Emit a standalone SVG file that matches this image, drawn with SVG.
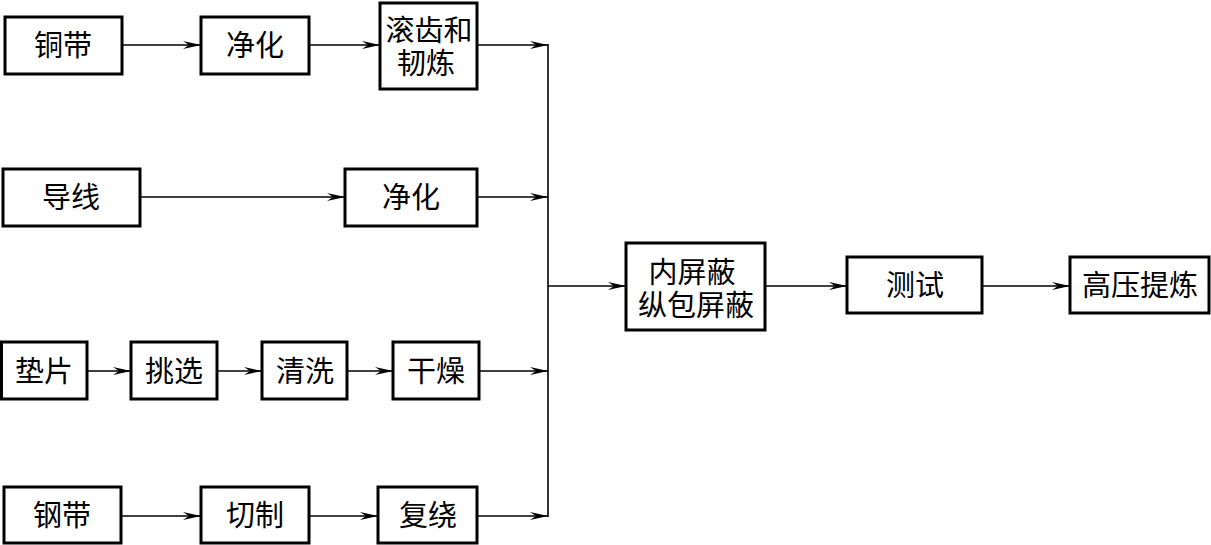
<svg xmlns="http://www.w3.org/2000/svg" width="1211" height="545" viewBox="0 0 1211 545">
<style>
.box{fill:#fff;stroke:#000;stroke-width:3}
.t{font-family:"Liberation Sans","Noto Sans CJK SC","Noto Sans CJK JP",sans-serif;font-size:29px;fill:#000;text-anchor:middle;dominant-baseline:central}
.c{fill:none;stroke:#000;stroke-width:1.6}
.a{fill:none;stroke:#000;stroke-width:1.6;marker-end:url(#ah)}
</style>
<defs>
<marker id="ah" markerUnits="userSpaceOnUse" markerWidth="20" markerHeight="10" viewBox="-19 -5 20 10" refX="0" refY="0" orient="auto">
<path d="M0,0 L-18,-4 L-12,0 L-18,4 Z" fill="#000"/>
</marker>
</defs>
<rect width="1211" height="545" fill="#fff"/>
<g id="connectors">
<line class="a" x1="122" y1="45" x2="201" y2="45"/>
<line class="a" x1="309" y1="45" x2="380" y2="45"/>
<line class="a" x1="477" y1="45" x2="548" y2="45"/>
<line class="a" x1="140" y1="197" x2="345" y2="197"/>
<line class="a" x1="477" y1="197" x2="548" y2="197"/>
<line class="a" x1="87" y1="371" x2="131" y2="371"/>
<line class="a" x1="217" y1="371" x2="262" y2="371"/>
<line class="a" x1="347" y1="371" x2="393" y2="371"/>
<line class="a" x1="479" y1="371" x2="548" y2="371"/>
<line class="a" x1="121" y1="516" x2="201" y2="516"/>
<line class="a" x1="309" y1="516" x2="378" y2="516"/>
<line class="a" x1="477" y1="516" x2="548" y2="516"/>
<line class="c" x1="548" y1="44" x2="548" y2="517"/>
<line class="a" x1="548" y1="286" x2="626" y2="286"/>
<line class="a" x1="765" y1="286" x2="847" y2="286"/>
<line class="a" x1="982" y1="286" x2="1070" y2="286"/>
</g>
<g id="n1"><rect class="box" x="5" y="17" width="117" height="57"/><text class="t" x="63" y="46">铜带</text></g>
<g id="n2"><rect class="box" x="201" y="17" width="108" height="57"/><text class="t" x="255" y="46">净化</text></g>
<g id="n3"><rect class="box" x="380" y="3" width="97" height="86"/><text class="t"><tspan x="429" y="30.5">滚齿和</tspan><tspan x="426" y="63.5">韧炼</tspan></text></g>
<g id="n4"><rect class="box" x="3" y="169" width="137" height="57"/><text class="t" x="71" y="198">导线</text></g>
<g id="n5"><rect class="box" x="345" y="169" width="132" height="57"/><text class="t" x="411" y="198">净化</text></g>
<g id="n6"><rect class="box" x="1.5" y="342" width="85.5" height="57"/><text class="t" x="44" y="372">垫片</text></g>
<g id="n7"><rect class="box" x="131" y="342" width="86" height="57"/><text class="t" x="174" y="372">挑选</text></g>
<g id="n8"><rect class="box" x="262" y="342" width="85" height="57"/><text class="t" x="305" y="372">清洗</text></g>
<g id="n9"><rect class="box" x="393" y="342" width="86" height="57"/><text class="t" x="436" y="372">干燥</text></g>
<g id="n10"><rect class="box" x="4" y="487" width="117" height="56"/><text class="t" x="62" y="516">钢带</text></g>
<g id="n11"><rect class="box" x="201" y="487" width="108" height="56"/><text class="t" x="255" y="516">切制</text></g>
<g id="n12"><rect class="box" x="378" y="487" width="99" height="56"/><text class="t" x="428" y="516">复绕</text></g>
<g id="n13"><rect class="box" x="626" y="243" width="139" height="87"/><text class="t"><tspan x="692" y="273">内屏蔽</tspan><tspan x="696" y="306">纵包屏蔽</tspan></text></g>
<g id="n14"><rect class="box" x="847" y="257" width="135" height="56"/><text class="t" x="915" y="286">测试</text></g>
<g id="n15"><rect class="box" x="1070" y="257" width="139" height="56"/><text class="t" x="1140" y="286">高压提炼</text></g>
</svg>
